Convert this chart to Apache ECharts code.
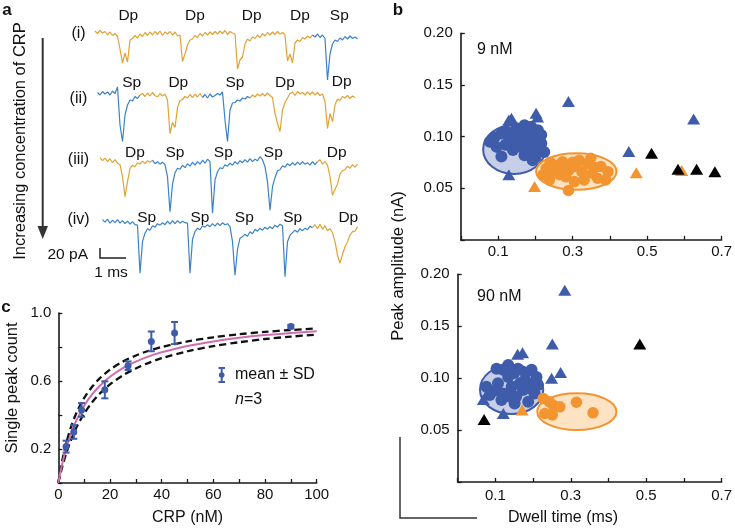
<!DOCTYPE html>
<html><head><meta charset="utf-8">
<script src="https://cdn.jsdelivr.net/npm/echarts/dist/echarts.min.js"></script>
<style>html,body{margin:0;padding:0;background:#fff}#c{width:735px;height:529px}</style>
</head><body><div id="c"></div>
<script>
// ---------- Panel a: current traces (pA), sampled every 0.1 ms ----------
const traceRowI = [6,1,7,2,5,-2,4,-3,1,-5,
 -30,-58,-38,-56,-12,-9,-3,-8,0,-5,
 3,-3,4,-2,5,-1,6,-3,4,0,
 5,-2,4,-4,-2,-55,-40,-22,-12,-10,
 -3,-7,1,-4,3,-2,4,-1,5,0,
 6,1,7,-1,5,2,0,-70,-52,-46,
 -20,-10,-14,-6,-9,-2,-7,1,-4,3,
 -2,4,-1,5,0,3,-2,-54,-40,-58,
 -18,-12,-15,-7,-10,-4,-8,-2,-6,0,
 -7,-2,-9,-92,-40,-20,-12,-15,-8,-12,
 -5,-10,-4,-9,-6,-10];
const traceRowII = [null,5,0,7,2,6,0,8,3,16,
 -60,-93,-40,-20,-10,-12,-3,-7,0,3,
 -3,4,-2,5,-1,-4,3,-2,2,-10,
 -77,-55,-65,-25,-11,-9,-3,-6,1,-5,
 2,-4,3,-5,1,-6,2,-4,-1,3,
 0,6,-50,-93,-30,-16,-15,-10,-12,-6,
 -8,-3,-6,0,-4,2,-2,3,-2,4,
 -1,-5,-37,-57,-73,-30,-15,-6,3,6,
 -1,7,2,5,0,6,1,6,0,5,
 -1,2,-13,-67,-37,-53,-20,-8,-11,-3,
 -6,-1,-7,-2,-5,null];
const traceRowIII = [null,null,8,2,7,0,6,-2,4,-3,
 -6,-30,-70,-40,-14,-7,-10,-2,-5,1,
 -4,2,-1,3,-4,0,-5,-1,-6,-30,
 -100,-45,-22,-13,-15,-7,-12,-4,-9,-1,
 -7,0,-5,3,-3,5,0,-103,-37,-20,
 -12,-14,-6,-9,-3,-7,0,-5,2,-2,
 4,-1,6,0,5,2,10,4,-10,-40,
 -97,-50,-32,-18,-16,-8,-11,-4,-8,-2,
 -7,-1,-6,0,-5,-2,-7,0,-6,0,
 4,-5,0,-7,-30,-67,-55,-45,-25,-18,
 -16,-9,-13,-6,-11,-5];
const traceRowIV = [null,null,null,4,-1,5,-3,3,-2,4,
 -3,2,-4,1,-5,0,-6,-7,-103,-40,
 -23,-14,-17,-8,-11,-4,-7,-2,-6,1,
 -5,2,-4,2,-3,1,-2,-3,-103,-35,
 -20,-13,-16,-8,-11,-6,-10,-4,-9,-3,
 -8,-2,-6,-4,-10,-40,-107,-55,-33,-30,
 -25,-29,-20,-24,-15,-19,-13,-17,-11,-15,
 -10,-14,-7,-11,-5,-8,-110,-40,-27,-22,
 -17,-21,-14,-18,-13,-16,-9,-12,-6,-14,
 -5,-15,-8,-18,-14,-22,-40,-67,-83,-65,
 -50,-40,-27,-20,-19,-10];
// segments: [kind, firstIndex, lastIndex]  (D = double peak, S = single peak)
const segRowI = [['D',0,87],['S',87,105]];
const segRowII = [['S',1,18],['D',18,43],['S',43,62],['D',62,104]];
const segRowIII = [['D',2,23],['S',23,89],['D',89,105]];
const segRowIV = [['S',3,87],['D',87,105]];
const rowNames = ['(i)','(ii)','(iii)','(iv)'];
const eventLabelsI = ['Dp','Dp','Dp','Dp','Sp'];
const eventLabelsII = ['Sp','Dp','Sp','Dp','Dp'];
const eventLabelsIII = ['Dp','Sp','Sp','Sp','Dp'];
const eventLabelsIV = ['Sp','Sp','Sp','Sp','Dp'];

// ---------- Panel b: dwell time (ms) vs peak amplitude (nA) ----------
const b9BlueCircles = [[0.078,0.095],[0.096,0.090],[0.109,0.0806],[0.109,0.103],[0.122,0.105],[0.131,0.097],[0.140,0.087],[0.149,0.108],[0.158,0.100],[0.171,0.111],[0.171,0.082],[0.180,0.092],[0.189,0.1096],[0.193,0.077],[0.202,0.087],[0.202,0.097],[0.207,0.106],[0.216,0.0935],[0.216,0.1015],[0.224,0.085],[0.120,0.092],[0.150,0.094],[0.165,0.104],[0.185,0.100],[0.200,0.080],[0.135,0.102],[0.090,0.099],[0.195,0.095],[0.210,0.090],[0.185,0.085],[0.160,0.090],[0.175,0.098],[0.145,0.097],[0.190,0.104]];
const b9OrangeCircles = [[0.220,0.0629],[0.229,0.069],[0.238,0.058],[0.247,0.066],[0.260,0.0725],[0.273,0.0757],[0.282,0.061],[0.289,0.0477],[0.291,0.0677],[0.305,0.0564],[0.309,0.071],[0.318,0.077],[0.331,0.058],[0.340,0.074],[0.349,0.079],[0.353,0.0645],[0.367,0.0597],[0.376,0.071],[0.389,0.058],[0.395,0.066],[0.265,0.063],[0.325,0.066],[0.300,0.075],[0.360,0.070],[0.280,0.068],[0.240,0.075]];
const b9BlueTriangles = [[0.136,0.1177],[0.129,0.116],[0.202,0.1225],[0.206,0.119],[0.289,0.134],[0.451,0.0854],[0.625,0.117],[0.129,0.0629]];
const b9OrangeTriangles = [[0.198,0.0516],[0.471,0.065],[0.593,0.067]];
const b9BlackTriangles = [[0.512,0.0838],[0.583,0.0684],[0.633,0.0684],[0.682,0.066]];
const b9BlueEllipse = [0.143,0.0875,0.083,0.0237];
const b9OrangeEllipse = [0.310,0.0661,0.108,0.0177];

const b90BlueCircles = [[0.103,0.109],[0.134,0.1126],[0.160,0.109],[0.196,0.108],[0.209,0.101],[0.107,0.095],[0.085,0.0837],[0.116,0.079],[0.151,0.0757],[0.187,0.0772],[0.204,0.0853],[0.173,0.0885],[0.143,0.0917],[0.134,0.101],[0.178,0.098],[0.076,0.0917],[0.213,0.0933],[0.120,0.0853],[0.155,0.082],[0.120,0.108],[0.190,0.090],[0.100,0.088],[0.140,0.082],[0.165,0.095],[0.200,0.095],[0.150,0.105],[0.180,0.105]];
const b90OrangeCircles = [[0.227,0.0805],[0.243,0.0773],[0.253,0.074],[0.271,0.0724],[0.231,0.066],[0.251,0.0645],[0.315,0.0768],[0.359,0.0666]];
const b90BlueTriangles = [[0.284,0.1847],[0.251,0.1328],[0.159,0.123],[0.172,0.1244],[0.273,0.1055],[0.249,0.0998],[0.068,0.0795],[0.121,0.066]];
const b90OrangeTriangles = [[0.171,0.0693]];
const b90BlackTriangles = [[0.483,0.1328],[0.070,0.0603]];
const b90BlueEllipse = [0.143,0.089,0.084,0.0236];
const b90OrangeEllipse = [0.316,0.0677,0.105,0.0177];

// ---------- Panel c: single peak count vs CRP ----------
const crpConc = [3,6,9,18,27,36,45,90];
const crpMean = [0.214,0.30,0.43,0.548,0.69,0.833,0.882,0.92];
const crpSD = [0.035,0.04,0.04,0.05,0.025,0.058,0.065,0.01];
const fitX = [0,1,2,3,5,7,10,13,16,20,25,30,35,40,50,60,70,80,90,100];
const fitY = [0,0.077,0.143,0.2,0.294,0.368,0.455,0.52,0.571,0.625,0.676,0.714,0.745,0.769,0.806,0.833,0.854,0.87,0.882,0.893];
const fitUpper = [0,0.091,0.167,0.231,0.333,0.412,0.5,0.565,0.615,0.667,0.714,0.75,0.778,0.8,0.833,0.857,0.875,0.889,0.9,0.909];
const fitLower = [0,0.065,0.121,0.171,0.256,0.326,0.408,0.473,0.525,0.58,0.633,0.674,0.707,0.734,0.775,0.805,0.828,0.847,0.861,0.873];

// ---------- build ----------
const FONT = 'Liberation Sans, Arial, Helvetica, sans-serif';
const C_TR = {D:'#E2A236', S:'#3A82C6'};
const C_BLUE = '#3F5CAB', C_OR = '#F29530', C_PINK = '#CF6DB0';
const AX = '#1a1a1a';

const rows = [
  {vals:traceRowI, seg:segRowI, base:34},
  {vals:traceRowII, seg:segRowII, base:95},
  {vals:traceRowIII, seg:segRowIII, base:161.7},
  {vals:traceRowIV, seg:segRowIV, base:221.7}
];
const grids = [], xAxes = [], yAxes = [], series = [];
rows.forEach((r, k) => {
  grids.push({left:95, width:265, top:r.base-20, height:80});
  xAxes.push({gridIndex:k, type:'value', min:0, max:10.6, show:false});
  yAxes.push({gridIndex:k, type:'value', min:-120, max:40, show:false});
  r.seg.forEach(s => {
    const d = [];
    for (let i = s[1]; i <= s[2]; i++) if (r.vals[i] != null) d.push([i*0.1, r.vals[i]]);
    series.push({type:'line', xAxisIndex:k, yAxisIndex:k, data:d, showSymbol:false, silent:true,
      lineStyle:{color:C_TR[s[0]], width:1.2}});
  });
});

function bAxes(gi, top, left, width, height, labMargin){
  grids.push({left:left, top:top, width:width, height:height});
  xAxes.push({gridIndex:gi, type:'value', min:0, max:0.7, interval:0.1,
    axisLine:{lineStyle:{color:AX, width:1.6}}, splitLine:{show:false},
    axisTick:{inside:true, length:4, lineStyle:{color:AX, width:1.3}},
    axisLabel:{margin:labMargin, color:'#111', fontSize:15, fontFamily:FONT,
      formatter:v => (Math.round(v*10)%2===1) ? v.toFixed(1) : ''}});
  yAxes.push({gridIndex:gi, type:'value', min:0, max:0.2, interval:0.05,
    axisLine:{show:true, lineStyle:{color:AX, width:1.6}}, splitLine:{show:false},
    axisTick:{show:true, inside:true, length:4, lineStyle:{color:AX, width:1.3}},
    axisLabel:{margin:8, color:'#111', fontSize:15, fontFamily:FONT,
      formatter:v => v < 0.001 ? '' : v.toFixed(2)}});
}
bAxes(4, 33.3, 460.8, 262.5, 206.5, 5);
bAxes(5, 274.3, 457.7, 264.3, 207.7, 6);

function ellipseSeries(gi, e, fill, stroke){
  return {type:'custom', xAxisIndex:gi, yAxisIndex:gi, silent:true, z:1,
    data:[e],
    renderItem:(p, api) => {
      const c = api.coord([api.value(0), api.value(1)]);
      const s = api.size([api.value(2), api.value(3)]);
      return {type:'ellipse', shape:{cx:c[0], cy:c[1], rx:s[0], ry:s[1]},
        style:{fill:fill, stroke:stroke, lineWidth:2}};
    }};
}
function sc(gi, data, symbol, color, size, z){
  return {type:'scatter', xAxisIndex:gi, yAxisIndex:gi, data:data, symbol:symbol,
    symbolSize:size, itemStyle:{color:color, opacity:1}, silent:true, z:z};
}
[[4,[b9BlueEllipse,b9OrangeEllipse],[b9BlueCircles,b9OrangeCircles],[b9BlueTriangles,b9OrangeTriangles,b9BlackTriangles]],
 [5,[b90BlueEllipse,b90OrangeEllipse],[b90BlueCircles,b90OrangeCircles],[b90BlueTriangles,b90OrangeTriangles,b90BlackTriangles]]]
.forEach(([gi, ell, circ, tri]) => {
  series.push(ellipseSeries(gi, ell[0], '#C7CFE8', C_BLUE));
  series.push(ellipseSeries(gi, ell[1], '#FDE3C3', C_OR));
  series.push(sc(gi, circ[0], 'circle', C_BLUE, 12, 3));
  series.push(sc(gi, circ[1], 'circle', C_OR, 11.5, 3));
  series.push(sc(gi, tri[0], 'triangle', C_BLUE, [13,11], 4));
  series.push(sc(gi, tri[1], 'triangle', C_OR, [13,11], 4));
  series.push(sc(gi, tri[2], 'triangle', '#000', [13,11], 4));
});

// panel c
grids.push({left:58.3, top:313, width:258.4, height:170});
xAxes.push({gridIndex:6, type:'value', min:0, max:100, interval:10,
  axisLine:{lineStyle:{color:AX, width:1.6}}, splitLine:{show:false},
  axisTick:{inside:true, length:4, lineStyle:{color:AX, width:1.3}},
  axisLabel:{margin:4, color:'#111', fontSize:15, fontFamily:FONT,
    formatter:v => (v%20===0) ? String(v) : ''},
  name:'CRP (nM)', nameLocation:'middle', nameGap:27,
  nameTextStyle:{fontSize:16, color:'#111', fontFamily:FONT}});
yAxes.push({gridIndex:6, type:'value', min:0, max:1, interval:0.2,
  axisLine:{show:true, lineStyle:{color:AX, width:1.6}}, splitLine:{show:false},
  axisTick:{show:true, inside:true, length:4, lineStyle:{color:AX, width:1.3}},
  axisLabel:{margin:7, color:'#111', fontSize:15, fontFamily:FONT,
    formatter:v => {const r=Math.round(v*10); return (r===2||r===6||r===10) ? v.toFixed(1) : '';}}});
const lineData = ys => fitX.map((x,i) => [x, ys[i]]);
series.push({type:'line', xAxisIndex:6, yAxisIndex:6, data:lineData(fitUpper), smooth:0.3, showSymbol:false, silent:true, z:2,
  lineStyle:{color:'#111', width:2.3, type:[7,4]}});
series.push({type:'line', xAxisIndex:6, yAxisIndex:6, data:lineData(fitLower), smooth:0.3, showSymbol:false, silent:true, z:2,
  lineStyle:{color:'#111', width:2.3, type:[7,4]}});
series.push({type:'line', xAxisIndex:6, yAxisIndex:6, data:lineData(fitY), smooth:0.3, showSymbol:false, silent:true, z:3,
  lineStyle:{color:C_PINK, width:2}});
series.push({type:'custom', xAxisIndex:6, yAxisIndex:6, silent:true, z:4,
  data:crpConc.map((c,i) => [c, crpMean[i], crpSD[i]]),
  renderItem:(p, api) => {
    const x = api.value(0), m = api.value(1), sd = api.value(2);
    const t = api.coord([x, m+sd]), b = api.coord([x, m-sd]), h = 3.5;
    const st = {stroke:C_BLUE, lineWidth:2};
    return {type:'group', children:[
      {type:'line', shape:{x1:t[0], y1:t[1], x2:b[0], y2:b[1]}, style:st},
      {type:'line', shape:{x1:t[0]-h, y1:t[1], x2:t[0]+h, y2:t[1]}, style:st},
      {type:'line', shape:{x1:b[0]-h, y1:b[1], x2:b[0]+h, y2:b[1]}, style:st}]};
  }});
series.push(sc(6, crpConc.map((c,i) => [c, crpMean[i]]), 'circle', C_BLUE, 7, 5));

// ---------- annotations ----------
const T = (text, x, y, o) => Object.assign({type:'text', x:x, y:y, silent:true,
  style:Object.assign({text:text, fill:'#111', font:'15px '+FONT, textAlign:'center', textVerticalAlign:'middle'}, (o&&o.style)||{})},
  o ? {rotation:o.rotation||0} : {});
const graphic = [];
graphic.push(T('a', 7, 10, {style:{font:'bold 17px '+FONT}}));
graphic.push(T('b', 398, 10, {style:{font:'bold 17px '+FONT}}));
graphic.push(T('c', 6, 307, {style:{font:'bold 17px '+FONT}}));
const rowNameY = [33.3, 98.3, 160, 220];
rowNames.forEach((n,i) => graphic.push(T(n, 78.5, rowNameY[i], {style:{font:'16px '+FONT}})));
const evX = [[128.3,195,251.7,300,339.3],[131.7,178.3,235,285,341.7],[135,175,223.3,273.3,336.7],[146.7,200,244.3,292.7,348.3]];
const evY = [16, 83, 152.7, 217.7];
[eventLabelsI, eventLabelsII, eventLabelsIII, eventLabelsIV].forEach((labs, r) =>
  labs.forEach((l, j) => graphic.push(T(l, evX[r][j], (r===1&&j===4) ? 81.5 : evY[r], {style:{font:'15.5px '+FONT}}))));
graphic.push(T('Increasing concentration of CRP', 20.5, 141, {rotation:Math.PI/2, style:{font:'16.5px '+FONT}}));
graphic.push({type:'line', silent:true, shape:{x1:42.7, y1:38, x2:42.7, y2:228}, style:{stroke:'#333', lineWidth:2}});
graphic.push({type:'polygon', silent:true, shape:{points:[[37.5,226],[48,226],[42.7,239]]}, style:{fill:'#333'}});
graphic.push({type:'polyline', silent:true, shape:{points:[[100,248],[100,258],[126,258]]}, style:{stroke:'#222', lineWidth:1.5, fill:null}});
graphic.push(T('20 pA', 88, 255, {style:{textAlign:'right', font:'15.5px '+FONT}}));
graphic.push(T('1 ms', 111, 273, {style:{font:'15.5px '+FONT}}));
// panel b texts
graphic.push(T('9 nM', 477, 50, {style:{textAlign:'left', font:'16px '+FONT}}));
graphic.push(T('90 nM', 477, 297, {style:{textAlign:'left', font:'16px '+FONT}}));
graphic.push(T('Peak amplitude (nA)', 398, 266, {rotation:Math.PI/2, style:{font:'16.5px '+FONT}}));
graphic.push(T('Dwell time (ms)', 563, 518, {style:{font:'16px '+FONT}}));
graphic.push({type:'polyline', silent:true, shape:{points:[[400,437],[400,518],[477,518]]}, style:{stroke:'#333', lineWidth:1.5, fill:null}});
// panel c texts
graphic.push(T('Single peak count', 12, 388, {rotation:Math.PI/2, style:{font:'16.5px '+FONT}}));
graphic.push({type:'group', silent:true, children:[
  {type:'line', shape:{x1:221.7, y1:368, x2:221.7, y2:382}, style:{stroke:C_BLUE, lineWidth:2}},
  {type:'line', shape:{x1:218.5, y1:368, x2:225, y2:368}, style:{stroke:C_BLUE, lineWidth:2}},
  {type:'line', shape:{x1:218.5, y1:382, x2:225, y2:382}, style:{stroke:C_BLUE, lineWidth:2}},
  {type:'circle', shape:{cx:221.7, cy:375, r:2.8}, style:{fill:C_BLUE}}]});
graphic.push(T('mean ± SD', 235, 375, {style:{textAlign:'left', font:'16px '+FONT}}));
graphic.push({type:'text', x:235, y:400, silent:true, style:{
  text:'{i|n}=3', font:'16px '+FONT, fill:'#111', textVerticalAlign:'middle',
  rich:{i:{fontStyle:'italic', fontSize:16, fontFamily:FONT, fill:'#111'}}}});

const chart = echarts.init(document.getElementById('c'), null, {renderer:'canvas'});
chart.setOption({animation:false, backgroundColor:'#fff', grid:grids, xAxis:xAxes, yAxis:yAxes, series:series, graphic:graphic});
</script></body></html>
